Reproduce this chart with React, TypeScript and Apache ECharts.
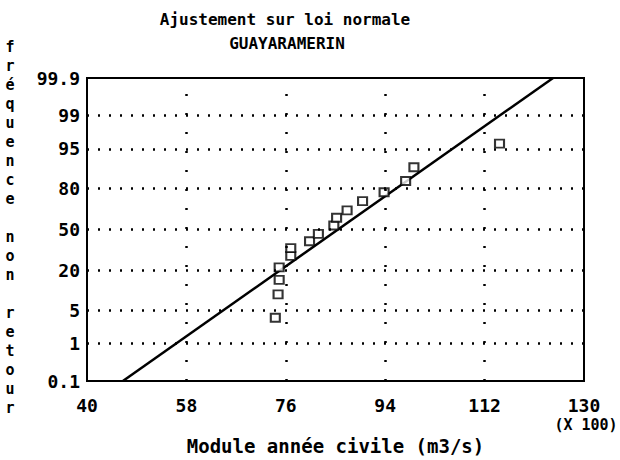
import React, { useEffect, useRef } from "react";
import * as echarts from "echarts";

const titleText = "Ajustement sur loi normale";
const subtitleText = "GUAYARAMERIN";
const xAxisName = "Module année civile (m3/s)";
const yAxisNameLetters = "fréquence non retour";
const xScaleNote = "(X 100)";

const xTicks = [40, 58, 76, 94, 112, 130];
const xGrid = [58, 76, 94, 112];
const yTickPercents = [0.1, 1, 5, 20, 50, 80, 95, 99, 99.9];
const yGridPercents = [1, 5, 20, 50, 80, 95, 99];

// observations: module (x 100 m3/s) and non-exceedance frequency (%)
const obsModule = [74.1, 74.6, 74.8, 74.8, 76.9, 76.9, 80.3, 81.9, 84.7, 85.2, 87.1, 89.9, 93.8, 97.7, 99.2, 114.7];
const obsFreq = [3.6, 9.3, 15.2, 22, 29.5, 35.2, 40.5, 46.4, 53.2, 59.5, 65.2, 71.9, 77.6, 83.9, 89.8, 96];

// fitted normal law, two ends
const fitModule = [46.5, 124.4];
const fitFreq = [0.1, 99.9];

// probit (inverse normal) scale transform
function probit(p: number): number {
  const a = [-3.969683028665376e1, 2.209460984245205e2, -2.759285104469687e2, 1.38357751867269e2, -3.066479806614716e1, 2.506628277459239];
  const b = [-5.447609879822406e1, 1.615858368580409e2, -1.556989798598866e2, 6.680131188771972e1, -1.328068155288572e1];
  const c = [-7.784894002430293e-3, -3.223964580411365e-1, -2.400758277161838, -2.549732539343734, 4.374664141464968, 2.938163982698783];
  const d = [7.784695709041462e-3, 3.224671290700398e-1, 2.445134137142996, 3.754408661907416];
  const pl = 0.02425;
  const ph = 1 - pl;
  let q: number, r: number;
  if (p < pl) {
    q = Math.sqrt(-2 * Math.log(p));
    return (((((c[0] * q + c[1]) * q + c[2]) * q + c[3]) * q + c[4]) * q + c[5]) / ((((d[0] * q + d[1]) * q + d[2]) * q + d[3]) * q + 1);
  }
  if (p <= ph) {
    q = p - 0.5;
    r = q * q;
    return ((((((a[0] * r + a[1]) * r + a[2]) * r + a[3]) * r + a[4]) * r + a[5]) * q) / (((((b[0] * r + b[1]) * r + b[2]) * r + b[3]) * r + b[4]) * r + 1);
  }
  q = Math.sqrt(-2 * Math.log(1 - p));
  return -(((((c[0] * q + c[1]) * q + c[2]) * q + c[3]) * q + c[4]) * q + c[5]) / ((((d[0] * q + d[1]) * q + d[2]) * q + d[3]) * q + 1);
}
const zOf = (pct: number) => probit(pct / 100);

const FONT = "DejaVu Sans Mono";

export default function App() {
  const ref = useRef<HTMLDivElement>(null);
  useEffect(() => {
    document.body.style.margin = "0";
    if (!ref.current) return;
    const chart = echarts.init(ref.current, null, { renderer: "svg" });
    const yMin = zOf(yTickPercents[0]);
    const yMax = zOf(yTickPercents[yTickPercents.length - 1]);
    const yTickZ = yTickPercents.map(zOf);
    chart.setOption({
      animation: false,
      backgroundColor: "#ffffff",
      grid: {
        left: 87,
        right: 36,
        top: 78,
        bottom: 77,
        show: true,
        borderColor: "#000",
        borderWidth: 2,
        backgroundColor: "transparent",
      },
      xAxis: {
        type: "value",
        min: 40,
        max: 130,
        name: xAxisName,
        nameLocation: "middle",
        nameGap: 55,
        nameTextStyle: { fontFamily: FONT, fontSize: 19, fontWeight: "bold", color: "#000" },
        axisLine: { show: false },
        axisTick: { show: false },
        splitLine: { show: false },
        axisLabel: {
          customValues: xTicks,
          margin: 16,
          fontFamily: FONT,
          fontSize: 18,
          fontWeight: "bold",
          color: "#000",
          lineHeight: 16,
          formatter: (v: number) => String(Math.round(v)),
        },
      },
      yAxis: {
        type: "value",
        min: yMin,
        max: yMax,
        axisLine: { show: false },
        axisTick: { show: false },
        splitLine: { show: false },
        axisLabel: {
          customValues: yTickZ,
          margin: 7,
          fontFamily: FONT,
          fontSize: 18,
          fontWeight: "bold",
          color: "#000",
          formatter: (v: number) => {
            let best = 0;
            let bd = Infinity;
            yTickZ.forEach((zv, i) => {
              const dd = Math.abs(zv - v);
              if (dd < bd) {
                bd = dd;
                best = i;
              }
            });
            return String(yTickPercents[best]);
          },
        },
      },
      graphic: [
        {
          type: "text",
          x: 285,
          y: 19,
          style: { text: titleText, fontFamily: FONT, fontSize: 16, fontWeight: "bold", fill: "#000", textAlign: "center", textVerticalAlign: "middle" },
        },
        {
          type: "text",
          x: 287,
          y: 43,
          style: { text: subtitleText, fontFamily: FONT, fontSize: 16, fontWeight: "bold", fill: "#000", textAlign: "center", textVerticalAlign: "middle" },
        },
        {
          type: "text",
          x: 10,
          y: 37,
          style: {
            text: yAxisNameLetters.split("").join("\n"),
            fontFamily: FONT,
            fontSize: 15,
            fontWeight: "bold",
            lineHeight: 19,
            fill: "#000",
            textAlign: "center",
            textVerticalAlign: "top",
          },
        },
        {
          type: "text",
          x: 586,
          y: 418,
          style: { text: xScaleNote, fontFamily: FONT, fontSize: 15, fontWeight: "bold", lineHeight: 14, fill: "#000", textAlign: "center", textVerticalAlign: "top" },
        },
      ],
      series: [
        {
          type: "line",
          data: fitModule.map((x, i) => [x, zOf(fitFreq[i])]),
          showSymbol: false,
          symbol: "none",
          lineStyle: { color: "#000", width: 2.5 },
          clip: true,
          z: 3,
          silent: true,
        },
        {
          type: "scatter",
          data: obsModule.map((x, i) => [x, zOf(obsFreq[i])]),
          symbol: "rect",
          symbolSize: [9, 8],
          itemStyle: { color: "#fff", borderColor: "#000", borderWidth: 2 },
          z: 4,
          silent: true,
          markLine: {
            silent: true,
            symbol: ["none", "none"],
            label: { show: false },
            lineStyle: { color: "#000", width: 2.5 },
            emphasis: { disabled: true },
            data: [
              ...yGridPercents.map((p) => ({ yAxis: zOf(p), lineStyle: { type: [2, 9], color: "#000", width: 2.5 } })),
              ...xGrid.map((x) => ({ xAxis: x, lineStyle: { type: [2, 17], color: "#000", width: 2.5 } })),
            ],
          },
        },
      ],
    });
    return () => chart.dispose();
  }, []);
  return <div ref={ref} style={{ width: 620, height: 460 }} />;
}
